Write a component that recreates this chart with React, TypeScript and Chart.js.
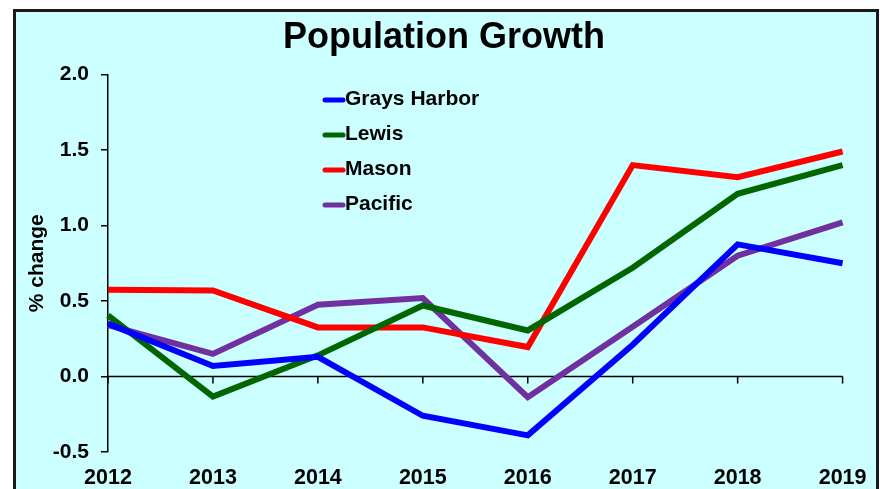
import React, { useEffect, useRef } from "react";
import { Chart, registerables } from "chart.js";

Chart.register(...registerables);

const years = ["2012", "2013", "2014", "2015", "2016", "2017", "2018", "2019"];
const graysHarbor = [0.35, 0.07, 0.13, -0.26, -0.39, 0.21, 0.875, 0.75];
const lewis = [0.405, -0.133, 0.14, 0.47, 0.305, 0.72, 1.21, 1.40];
const mason = [0.575, 0.57, 0.325, 0.325, 0.195, 1.40, 1.32, 1.49];
const pacific = [0.34, 0.15, 0.475, 0.52, -0.137, 0.33, 0.80, 1.02];
const seriesNames = ["Grays Harbor", "Lewis", "Mason", "Pacific"];
const seriesColors = ["#0000FF", "#006600", "#FF0000", "#7030A0"];
const chartTitle = "Population Growth";
const yTitle = "% change";

const FONT = "'Liberation Sans', Arial, sans-serif";

const decorPlugin = {
  id: "decor",
  beforeDatasetsDraw(chart: any) {
    const { ctx, chartArea, scales } = chart;
    const y0 = scales.y.getPixelForValue(0);
    ctx.save();
    ctx.strokeStyle = "#000";
    ctx.lineWidth = 1.5;
    ctx.beginPath();
    ctx.moveTo(chartArea.left, y0);
    ctx.lineTo(chartArea.right, y0);
    scales.x.ticks.forEach((_t: any, i: number) => {
      const x = scales.x.getPixelForTick(i);
      ctx.moveTo(x, y0);
      ctx.lineTo(x, y0 + 7);
    });
    ctx.stroke();
    ctx.restore();
  },
  afterDraw(chart: any) {
    const { ctx, chartArea } = chart;
    ctx.save();
    // title
    ctx.fillStyle = "#000";
    ctx.font = `bold 36px ${FONT}`;
    ctx.textAlign = "center";
    ctx.textBaseline = "alphabetic";
    ctx.fillText(chartTitle, chart.width / 2 + 4, 48);
    // legend
    const lx = chartArea.left + 215;
    const ly = chartArea.top + 25.5;
    ctx.font = `bold 21px ${FONT}`;
    ctx.textAlign = "left";
    ctx.textBaseline = "middle";
    chart.data.datasets.forEach((ds: any, i: number) => {
      const y = ly + i * 35;
      ctx.strokeStyle = ds.borderColor;
      ctx.lineWidth = 5;
      ctx.lineCap = "round";
      ctx.beginPath();
      ctx.moveTo(lx + 2, y);
      ctx.lineTo(lx + 20, y);
      ctx.stroke();
      ctx.fillStyle = "#000";
      ctx.fillText(ds.label, lx + 22, y - 1);
    });
    ctx.restore();
  },
};

export default function App() {
  const ref = useRef<HTMLCanvasElement | null>(null);
  useEffect(() => {
    document.body.style.margin = "0";
    const values = [graysHarbor, lewis, mason, pacific];
    const chart = new Chart(ref.current as HTMLCanvasElement, {
      type: "line",
      data: {
        labels: years,
        datasets: values.map((v, i) => ({
          label: seriesNames[i],
          data: v,
          borderColor: seriesColors[i],
          backgroundColor: seriesColors[i],
          borderWidth: 6,
          pointRadius: 0,
          tension: 0,
          borderJoinStyle: "miter" as const,
        })),
      },
      options: {
        animation: false,
        responsive: false,
        maintainAspectRatio: false,
        layout: { padding: { left: 20, right: 35, top: 74.5, bottom: 0 } },
        plugins: {
          legend: { display: false },
          title: { display: false },
          tooltip: { enabled: false },
        },
        scales: {
          x: {
            type: "category",
            offset: false,
            grid: { display: false, drawTicks: false },
            border: { display: false },
            ticks: {
              color: "#000",
              font: { family: FONT, size: 21.5, weight: "bold" },
              padding: 13.5,
              maxRotation: 0,
              autoSkip: false,
            },
            afterFit: (s: any) => {
              s.height = 37;
            },
          },
          y: {
            min: -0.5,
            max: 2.0,
            ticks: {
              stepSize: 0.5,
              color: "#000",
              font: { family: FONT, size: 21, weight: "bold" },
              padding: 12,
              callback: (v: any) => Number(v).toFixed(1),
            },
            grid: {
              drawOnChartArea: false,
              drawTicks: true,
              tickLength: 7,
              color: "#000",
              lineWidth: 1.5,
            },
            border: { display: true, color: "#000", width: 1.5 },
            title: {
              display: true,
              text: yTitle,
              color: "#000",
              font: { family: FONT, size: 21, weight: "bold" },
              padding: { top: 4.4, bottom: 0 },
            },
            afterFit: (s: any) => {
              s.width = 88;
            },
          },
        },
      },
      plugins: [decorPlugin],
    });
    return () => chart.destroy();
  }, []);

  return (
    <div style={{ position: "relative", width: 880, height: 489, overflow: "hidden", background: "#fff" }}>
      <div
        style={{
          position: "absolute",
          left: 13,
          top: 9,
          width: 866,
          height: 600,
          boxSizing: "border-box",
          border: "3px solid #1a1a1a",
          background: "#CCFFFF",
        }}
      />
      <canvas
        ref={ref}
        width={880}
        height={489}
        style={{ position: "absolute", left: 0, top: 0, width: 880, height: 489 }}
      />
    </div>
  );
}
